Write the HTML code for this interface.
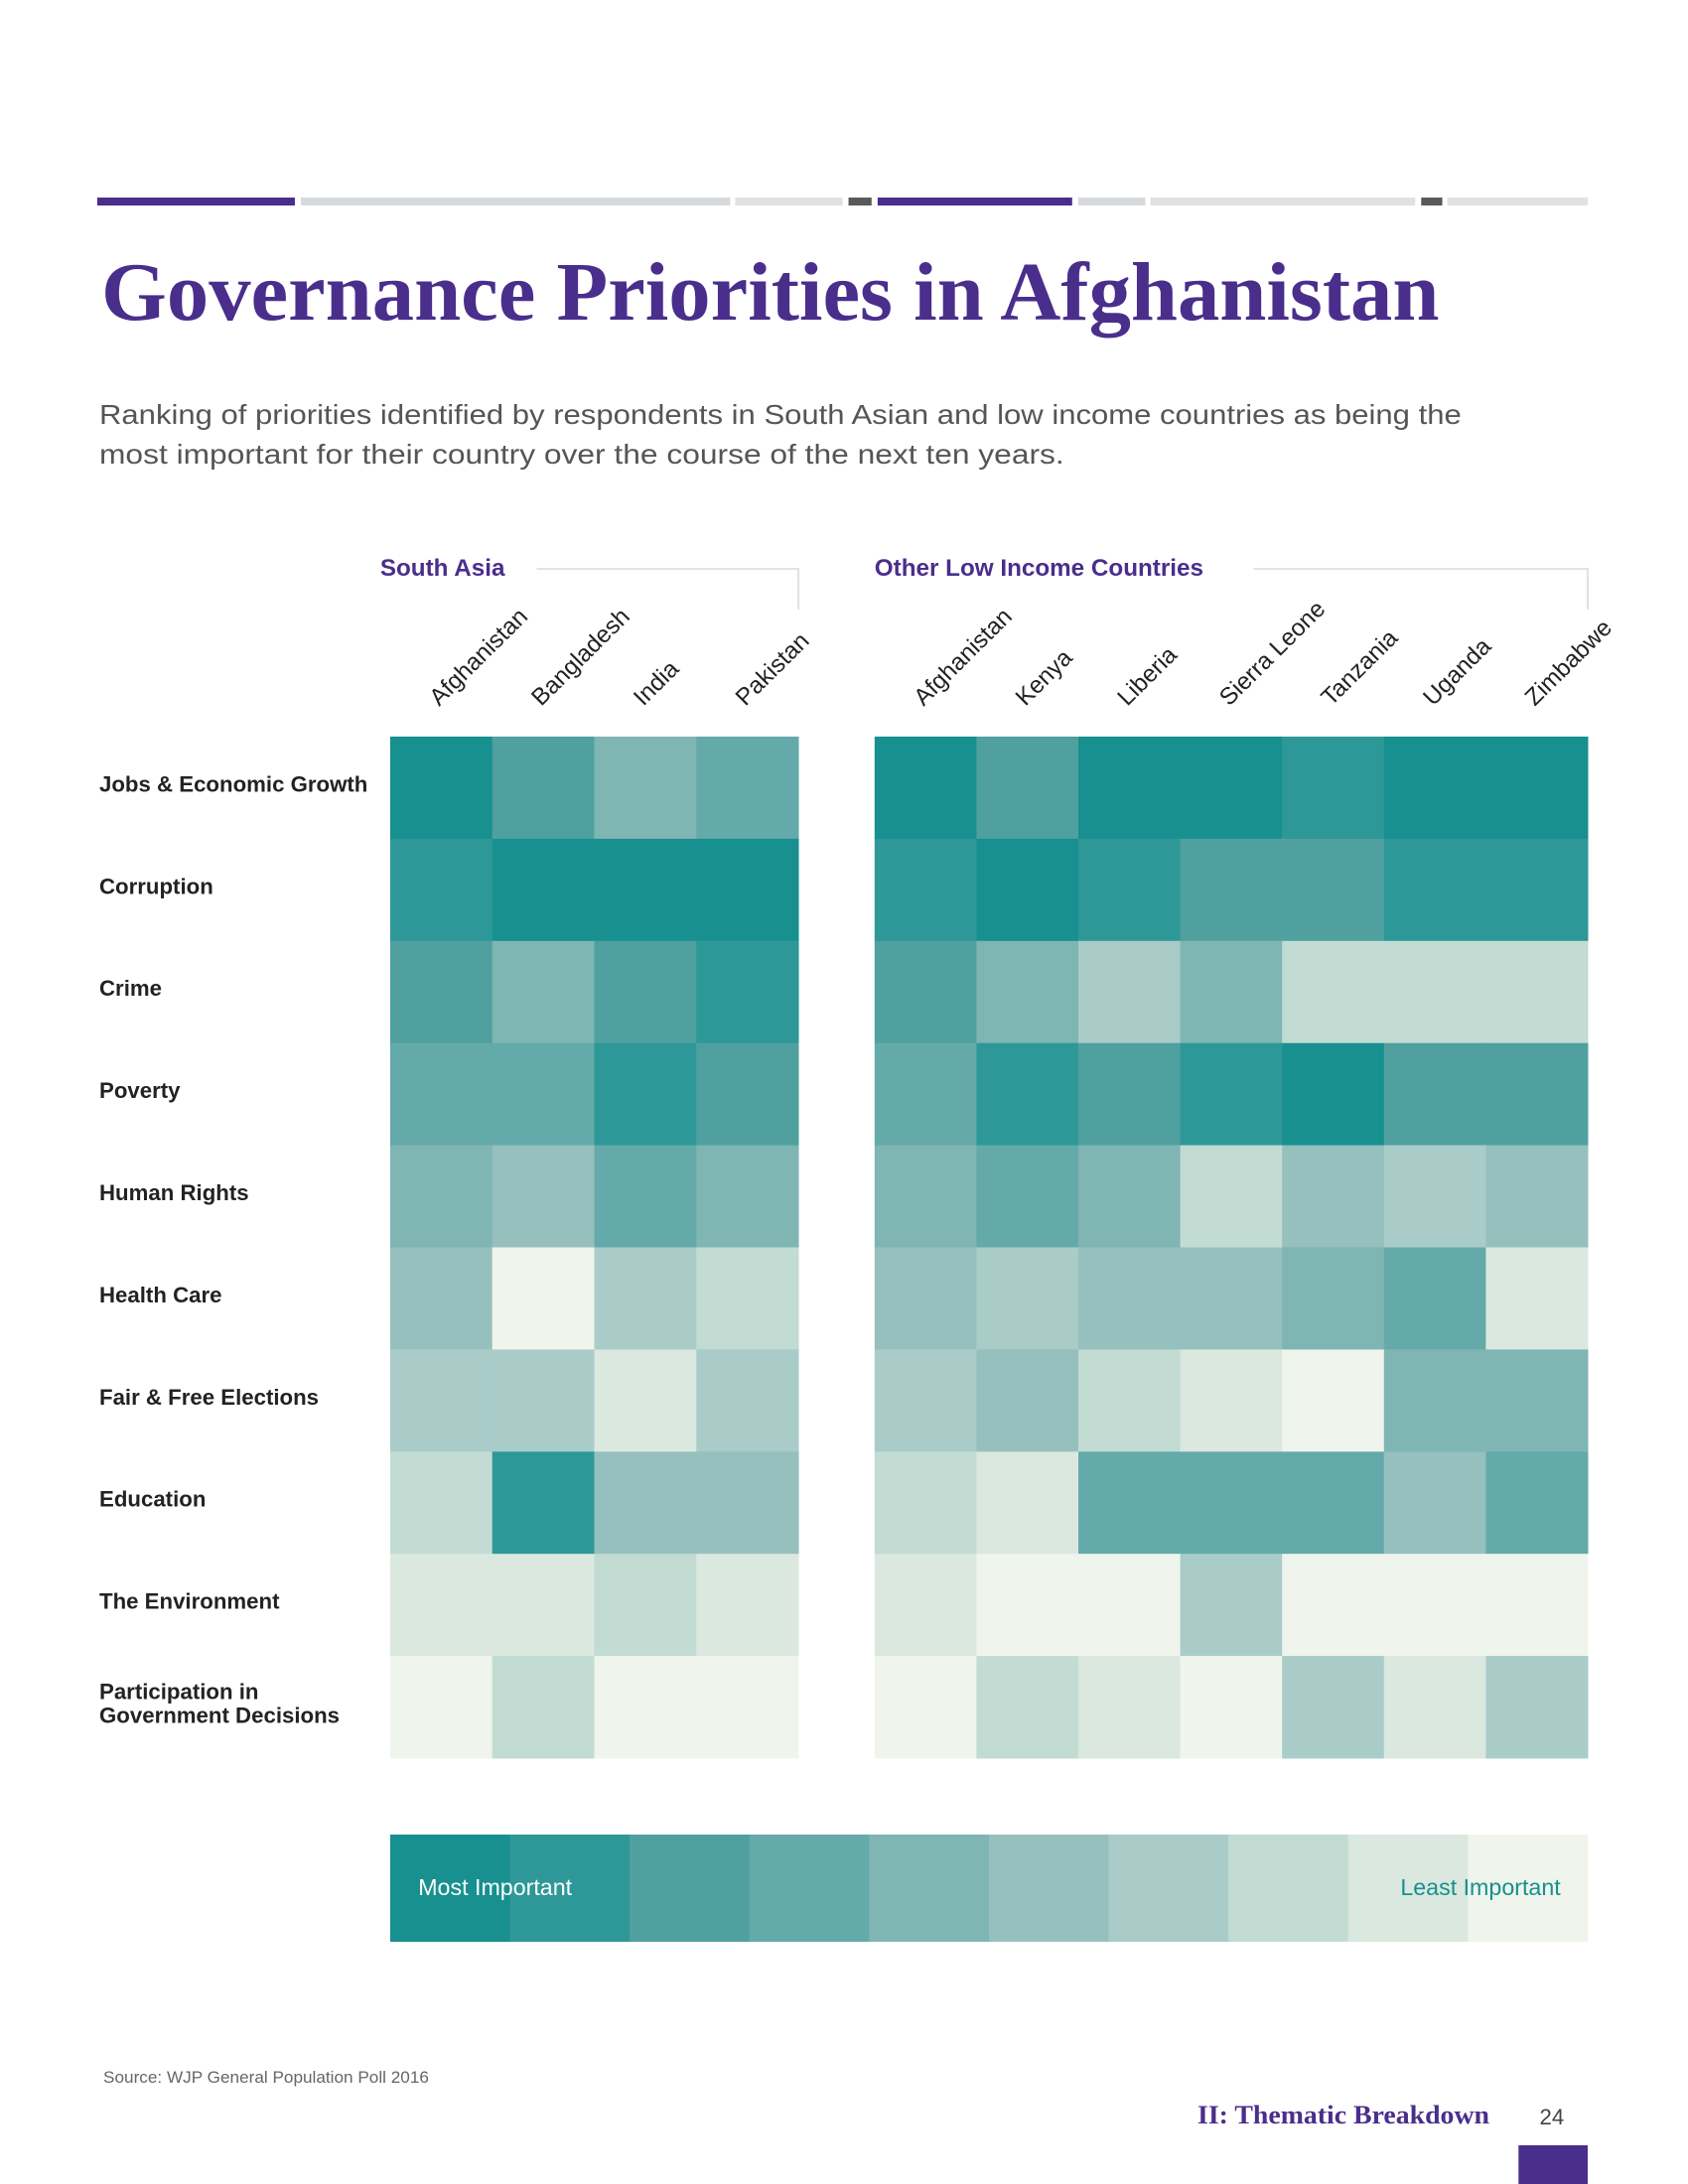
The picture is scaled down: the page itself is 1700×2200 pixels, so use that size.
<!DOCTYPE html>
<html><head><meta charset="utf-8"><style>
html,body{margin:0;padding:0;background:#fff}
svg{display:block}
text{font-family:"Liberation Sans",sans-serif}
</style></head><body>
<svg id="chart" width="1700" height="2200" viewBox="0 0 1700 2200" xmlns="http://www.w3.org/2000/svg">
<g transform="scale(1.0101,1)">
<g>
<rect x="97" y="199" width="197" height="8" fill="#4a2e8c"/>
<rect x="300" y="199" width="428" height="8" fill="#d6d9dc"/>
<rect x="733" y="199" width="107" height="8" fill="#e0e1e2"/>
<rect x="846" y="199" width="23" height="8" fill="#58595b"/>
<rect x="875" y="199" width="194" height="8" fill="#4a2e8c"/>
<rect x="1075" y="199" width="67" height="8" fill="#d6d9dc"/>
<rect x="1147" y="199" width="264" height="8" fill="#e0e1e2"/>
<rect x="1417" y="199" width="21" height="8" fill="#58595b"/>
<rect x="1443" y="199" width="140" height="8" fill="#e0e1e2"/>
</g>
<text x="101" y="322" font-size="84" font-weight="bold" fill="#4a2e8c" style="font-family:'Liberation Serif',serif" textLength="1334" lengthAdjust="spacingAndGlyphs">Governance Priorities in Afghanistan</text>
<text x="99" y="427" font-size="28" fill="#555" textLength="1358" lengthAdjust="spacingAndGlyphs">Ranking of priorities identified by respondents in South Asian and low income countries as being the</text>
<text x="99" y="467" font-size="28" fill="#555" textLength="962" lengthAdjust="spacingAndGlyphs">most important for their country over the course of the next ten years.</text>
<text x="379" y="580" font-size="24" font-weight="bold" fill="#4a2e8c">South Asia</text>
<polyline points="535,573 796,573 796,614" fill="none" stroke="#d8d8d8" stroke-width="1.5"/>
<text x="872" y="580" font-size="24" font-weight="bold" fill="#4a2e8c">Other Low Income Countries</text>
<polyline points="1250,573 1583,573 1583,614" fill="none" stroke="#d8d8d8" stroke-width="1.5"/>
<g id="grid"></g>
<g id="legend"></g>
<text x="103" y="2098" font-size="17" fill="#666">Source: WJP General Population Poll 2016</text>
<text x="1194" y="2139" font-size="26" font-weight="bold" fill="#4a2e8c" style="font-family:'Liberation Serif',serif" textLength="291" lengthAdjust="spacingAndGlyphs">II: Thematic Breakdown</text>
<text x="1535" y="2140" font-size="22" fill="#444">24</text>
<rect x="1514" y="2161" width="69" height="39" fill="#4a2e8c"/>
</g>
</svg>
<script>
const rows = ["Jobs & Economic Growth","Corruption","Crime","Poverty","Human Rights","Health Care","Fair & Free Elections","Education","The Environment","Participation in|Government Decisions"];
const southCountries = ["Afghanistan","Bangladesh","India","Pakistan"];
const otherCountries = ["Afghanistan","Kenya","Liberia","Sierra Leone","Tanzania","Uganda","Zimbabwe"];
const southRanks = [
 [1,3,5,4],[2,1,1,1],[3,5,3,2],[4,4,2,3],[5,6,4,5],
 [6,10,7,8],[7,7,9,7],[8,2,6,6],[9,9,8,9],[10,8,10,10]];
const otherRanks = [
 [1,3,1,1,2,1,1],[2,1,2,3,3,2,2],[3,5,7,5,8,8,8],[4,2,3,2,1,3,3],[5,4,5,8,6,7,6],
 [6,7,6,6,5,4,9],[7,6,8,9,10,5,5],[8,9,4,4,4,6,4],[9,10,10,7,10,10,10],[10,8,9,10,7,9,7]];
const legendLevels = [1,2,3,4,5,6,7,8,9,10];
const palette = ["#17908f","#2e9898","#50a0a0","#65aaaa","#7fb5b3","#96c0bd","#a9ccc9","#c2dcd3","#dbe8df","#eff5ec"];

const NS="http://www.w3.org/2000/svg";
const top0=742, rowH=(1771-742)/rows.length;
const groups=[{x0:389,x1:796,cols:southCountries,data:southRanks},{x0:872,x1:1583,cols:otherCountries,data:otherRanks}];
const g=document.getElementById('grid');
function mk(tag,attrs){const e=document.createElementNS(NS,tag);for(const k in attrs)e.setAttribute(k,attrs[k]);return e;}
rows.forEach((r,i)=>{
  const t=mk('text',{x:99,'font-size':22,'font-weight':'bold',fill:'#222'});
  
  
  const parts=r.split('|');
  const cy=top0+rowH*i+rowH/2;
  parts.forEach((p,j)=>{const ts=mk('tspan',{x:99,y:cy+4+(j-(parts.length-1)/2)*24});ts.textContent=p;t.appendChild(ts);});
  g.appendChild(t);
});
groups.forEach(gr=>{
  const cw=(gr.x1-gr.x0)/gr.cols.length;
  gr.cols.forEach((c,j)=>{
    const cx=gr.x0+cw*j+cw/2-2, cy=712;
    const t=mk('text',{x:cx,y:cy,'font-size':24,fill:'#222',transform:`rotate(-45 ${cx} ${cy})`});
    
    
    t.textContent=c;g.appendChild(t);
  });
  gr.data.forEach((row,i)=>row.forEach((v,j)=>{
    const rc=mk('rect',{x:gr.x0+cw*j,y:top0+rowH*i,width:cw+0.5,height:rowH+0.5,fill:palette[v-1]});
    
    
    g.appendChild(rc);
  }));
});
const lg=document.getElementById('legend');
const lx0=389,lx1=1583,ly=1848,lh=108,lw=(lx1-lx0)/legendLevels.length;
legendLevels.forEach((v,i)=>{
  const rc=mk('rect',{x:lx0+lw*i,y:ly,width:lw+0.5,height:lh,fill:palette[v-1]});
  
  
  lg.appendChild(rc);
});
const t1=mk('text',{x:417,y:1909,'font-size':23,fill:'#fff'});


t1.textContent='Most Important';lg.appendChild(t1);
const t2=mk('text',{x:1556,y:1909,'font-size':23,fill:'#17908f','text-anchor':'end'});


t2.textContent='Least Important';lg.appendChild(t2);
</script>
</body></html>
